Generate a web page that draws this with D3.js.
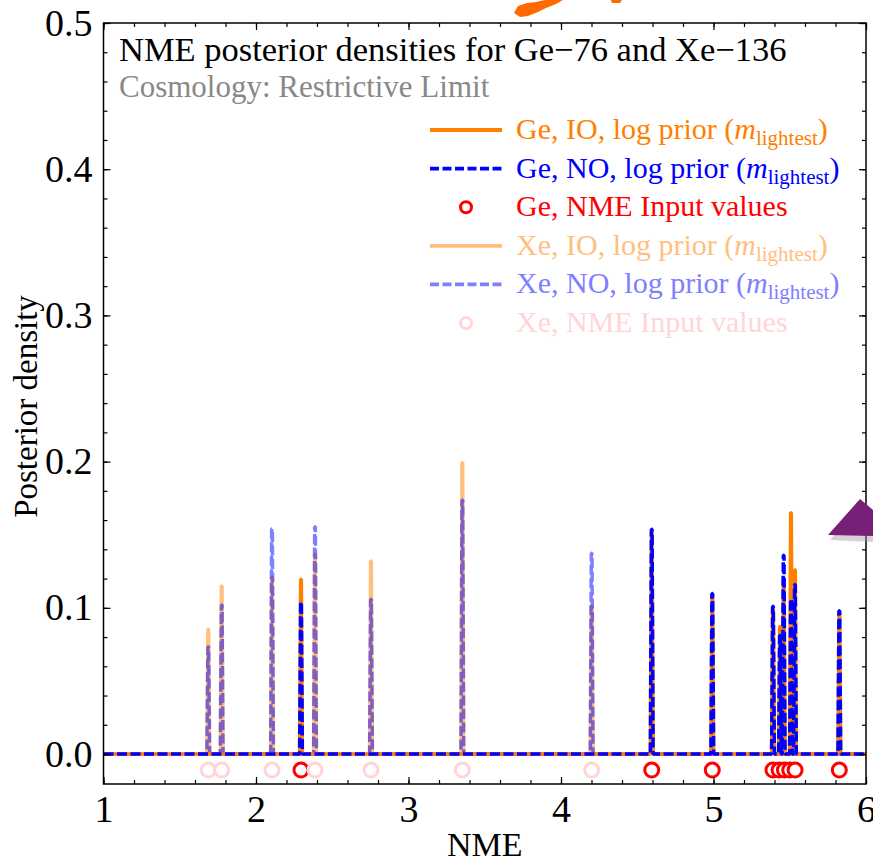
<!DOCTYPE html>
<html><head><meta charset="utf-8">
<script src="https://cdn.jsdelivr.net/npm/d3@7"></script>
<style>
body{margin:0;background:#fff}
svg text{font-family:"Liberation Serif","Times New Roman",serif}
</style>
</head><body>
<svg id="chart" width="873" height="864"></svg>
<script>
// ---- data ----
const gePeakNME = [2.295, 4.595, 4.992, 5.390, 5.436, 5.460, 5.508, 5.534, 5.825];
const geIO      = [0.1195, 0.152, 0.109, 0.100, 0.0872, 0.120, 0.165, 0.126, 0.097];
const geNO      = [0.104, 0.1537, 0.1098, 0.101, 0.081, 0.136, 0.106, 0.116, 0.098];
const xePeakNME = [1.687, 1.775, 2.105, 2.387, 2.754, 3.353, 4.201];
const xeIO      = [0.0854, 0.115, 0.1207, 0.1366, 0.132, 0.1992, 0.1013];
const xeNO      = [0.0733, 0.102, 0.154, 0.1555, 0.1059, 0.1737, 0.1373];
const geInputNME = [2.295, 4.595, 4.992, 5.390, 5.430, 5.465, 5.500, 5.535, 5.825];
const xeInputNME = [1.687, 1.775, 2.105, 2.387, 2.754, 3.353, 4.201];
const inputLevel = -0.011;
const xTickLabels = [1, 2, 3, 4, 5, 6];
const yTickLabels = [0.0, 0.1, 0.2, 0.3, 0.4, 0.5];
const legendLabels = [
  {name:"Ge, IO, log prior (", sub:true},
  {name:"Ge, NO, log prior (", sub:true},
  {name:"Ge, NME Input values", sub:false},
  {name:"Xe, IO, log prior (", sub:true},
  {name:"Xe, NO, log prior (", sub:true},
  {name:"Xe, NME Input values", sub:false}
];
const titleText = "NME posterior densities for Ge\u221276 and Xe\u2212136";
const subtitleText = "Cosmology: Restrictive Limit";

// ---- styles ----
const ORANGE = "#ff8000", BLUE = "#0000ff", RED = "#ff0000";
const LORANGE = "#ffbf80", LBLUE = "#8080ff", PINK = "#ffd5d5";
const DASH = "10,3.5";

const svg = d3.select("#chart");
const x = d3.scaleLinear().domain([1, 6]).range([103.5, 866]);
const y = d3.scaleLinear().domain([-0.0205, 0.5]).range([784, 23]);

// decorations present in the reference picture
svg.append("path")
  .attr("d", "M514,13 L518,6 L527,3 L536,2 L545,0 L563,0 L556,4 L546,8 L538,12 L528,16 L520,17 Z")
  .attr("fill", "#ff6a00");
svg.append("path").attr("d","M611,0 L622,0 L620,3 L612,3 Z").attr("fill","#ff6a00");

// spike profile from a peak list
const hw = 0.009;
function spikes(centers, heights) {
  const pts = [[1, 0]];
  centers.map((c, i) => ({c, h: heights[i]})).sort((a, b) => a.c - b.c)
    .forEach(p => { pts.push([p.c - hw, 0], [p.c - hw * 0.25, p.h], [p.c + hw * 0.25, p.h], [p.c + hw, 0]); });
  pts.push([6, 0]);
  return pts;
}
const line = d3.line().x(d => x(d[0])).y(d => y(d[1]));

const plot = svg.append("g");
const defs = svg.append("defs");
defs.append("clipPath").attr("id", "clip").append("rect")
  .attr("x", x(1)).attr("y", y(0.5)).attr("width", x(6) - x(1)).attr("height", y(-0.0205) - y(0.5));
plot.attr("clip-path", "url(#clip)");

function drawLine(data, color, dashed, opacity) {
  plot.append("path").datum(data)
    .attr("d", line).attr("fill", "none")
    .attr("stroke", color).attr("stroke-opacity", opacity)
    .attr("stroke-width", 3.5)
    .attr("stroke-linejoin", "bevel")
    .attr("stroke-dasharray", dashed ? DASH : null);
}
drawLine(spikes(xePeakNME, xeIO), ORANGE, false, 0.5);
drawLine(spikes(xePeakNME, xeNO), BLUE, true, 0.5);
drawLine(spikes(gePeakNME, geIO), ORANGE, false, 1);
drawLine(spikes(gePeakNME, geNO), BLUE, true, 1);

plot.selectAll("circle.ge").data(geInputNME).join("circle")
  .attr("class", "ge").attr("cx", d => x(d)).attr("cy", y(inputLevel)).attr("r", 7)
  .attr("fill", "#fff").attr("stroke", RED).attr("stroke-width", 3);
plot.selectAll("circle.xe").data(xeInputNME).join("circle")
  .attr("class", "xe").attr("cx", d => x(d)).attr("cy", y(inputLevel)).attr("r", 7)
  .attr("fill", "#fff").attr("stroke", PINK).attr("stroke-width", 3);

// ---- axes (frame ticks, inward) ----
const xMinor = d3.range(1, 6.001, 0.2).map(v => +v.toFixed(2));
const yMinor = d3.range(0, 0.5001, 0.02).map(v => +v.toFixed(2));
function styleAxis(g, labels, fs) {
  g.select(".domain").remove();
  g.selectAll(".tick line").attr("stroke", "#000").attr("stroke-width", 1.2);
  g.selectAll("text").attr("font-size", fs).attr("fill", "#000")
    .style("font-family", '"Liberation Serif","Times New Roman",serif');
  if (!labels) g.selectAll("text").remove();
}
const fsTick = 38;
// bottom
svg.append("g").attr("transform", `translate(0,${y(-0.0205)})`)
  .call(d3.axisBottom(x).tickValues(xMinor).tickSize(-4)).call(g => styleAxis(g, false));
svg.append("g").attr("transform", `translate(0,${y(-0.0205)})`)
  .call(d3.axisBottom(x).tickValues(xTickLabels).tickSize(-7).tickPadding(11).tickFormat(d3.format("d")))
  .call(g => styleAxis(g, true, fsTick));
// top
svg.append("g").attr("transform", `translate(0,${y(0.5)})`)
  .call(d3.axisTop(x).tickValues(xMinor).tickSize(-4)).call(g => styleAxis(g, false));
svg.append("g").attr("transform", `translate(0,${y(0.5)})`)
  .call(d3.axisTop(x).tickValues(xTickLabels).tickSize(-7)).call(g => styleAxis(g, false));
// left
svg.append("g").attr("transform", `translate(${x(1)},0)`)
  .call(d3.axisLeft(y).tickValues(yMinor).tickSize(-4)).call(g => styleAxis(g, false));
svg.append("g").attr("transform", `translate(${x(1)},0)`)
  .call(d3.axisLeft(y).tickValues(yTickLabels).tickSize(-7).tickPadding(11).tickFormat(d3.format(".1f")))
  .call(g => styleAxis(g, true, fsTick));
// right
svg.append("g").attr("transform", `translate(${x(6)},0)`)
  .call(d3.axisRight(y).tickValues(yMinor).tickSize(-4)).call(g => styleAxis(g, false));
svg.append("g").attr("transform", `translate(${x(6)},0)`)
  .call(d3.axisRight(y).tickValues(yTickLabels).tickSize(-7)).call(g => styleAxis(g, false));

// frame
svg.append("rect").attr("x", x(1)).attr("y", y(0.5))
  .attr("width", x(6) - x(1)).attr("height", y(-0.0205) - y(0.5))
  .attr("fill", "none").attr("stroke", "#000").attr("stroke-width", 1.5);

// axis titles
svg.append("text").attr("x", (x(1) + x(6)) / 2).attr("y", 856)
  .attr("text-anchor", "middle").attr("font-size", 34).text("NME");
svg.append("text").attr("transform", `translate(37,${(y(0.5) + y(-0.0205)) / 2 + 3}) rotate(-90)`)
  .attr("text-anchor", "middle").attr("font-size", 33).text("Posterior density");

// title + subtitle
svg.append("text").attr("x", 119).attr("y", 61).attr("font-size", 34.5).attr("fill", "#000").text(titleText);
svg.append("text").attr("x", 119).attr("y", 97).attr("font-size", 31).attr("fill", "#888").text(subtitleText);

// legend
const legendColors = [ORANGE, BLUE, RED, LORANGE, LBLUE, PINK];
const legendKinds = ["solid", "dash", "circle", "solid", "dash", "circle"];
const lg = svg.append("g");
legendLabels.forEach((L, i) => {
  const cy = 130 + i * 38.6;
  const col = legendColors[i];
  if (legendKinds[i] === "circle") {
    lg.append("circle").attr("cx", 466).attr("cy", cy).attr("r", 5.5)
      .attr("fill", "#fff").attr("stroke", col).attr("stroke-width", 3);
  } else {
    lg.append("line").attr("x1", 430).attr("x2", 502).attr("y1", cy).attr("y2", cy)
      .attr("stroke", col).attr("stroke-width", 3.8)
      .attr("stroke-dasharray", legendKinds[i] === "dash" ? "9,3.5" : null);
  }
  const t = lg.append("text").attr("x", 516).attr("y", cy + 9).attr("font-size", 30).attr("fill", col);
  t.append("tspan").text(L.name);
  if (L.sub) {
    t.append("tspan").attr("font-style", "italic").text("m");
    t.append("tspan").attr("font-size", 21).attr("dy", 6).text("lightest");
    t.append("tspan").attr("dy", -6).text(")");
  }
});

// purple arrow head decoration (present in reference)
svg.append("path")
  .attr("d", "M829,536 L861,500 L873,511 L873,538 Z")
  .attr("fill", "#a896a8").attr("opacity", 0.45).attr("transform", "translate(1,4)");
svg.append("path")
  .attr("d", "M828,535 L860,499 L873,510 L873,536 Z")
  .attr("fill", "#781f78");
</script>
</body></html>
